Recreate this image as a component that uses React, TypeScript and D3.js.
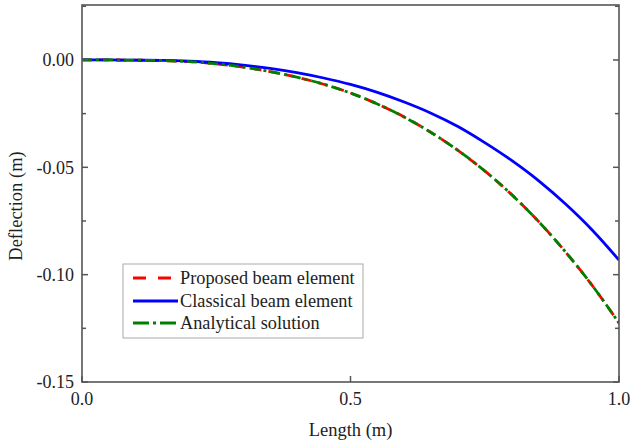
import React from "react";
import * as d3 from "d3";

const lengths = [0, 0.05, 0.1, 0.15, 0.2, 0.25, 0.3, 0.35, 0.4, 0.45, 0.5, 0.55, 0.6, 0.65, 0.7, 0.75, 0.8, 0.85, 0.9, 0.95, 1.0];
const proposed = [0, 0, -0.0001, -0.0003, -0.0008, -0.0018, -0.0033, -0.0054, -0.008, -0.0113, -0.0154, -0.0205, -0.0266, -0.0338, -0.0421, -0.0517, -0.0627, -0.0752, -0.0893, -0.105, -0.1225];
const classical = [0, 0, -0.0001, -0.0002, -0.0006, -0.0013, -0.0024, -0.0039, -0.0059, -0.0084, -0.0114, -0.0151, -0.0196, -0.0248, -0.031, -0.0385, -0.0468, -0.0562, -0.067, -0.0792, -0.0932];
const analytical = [0, 0, -0.0001, -0.0003, -0.0008, -0.0018, -0.0033, -0.0054, -0.008, -0.0113, -0.0154, -0.0205, -0.0266, -0.0338, -0.0421, -0.0517, -0.0627, -0.0752, -0.0893, -0.105, -0.1225];

const xTicks = [0, 0.5, 1.0];
const yTicks = [0, -0.05, -0.1, -0.15];
const yMinor = [0.025, -0.025, -0.075, -0.125];
const seriesNames = ["Proposed beam element", "Classical beam element", "Analytical solution"];

const W = 632, H = 446;
const L = 82, R = 619, T = 5, B = 382;
const font = "'Liberation Serif', 'Times New Roman', serif";

const fmt = (f: string) => (v: number) => d3.format(f)(v).replace("\u2212", "-");

export default function App() {
  const x = d3.scaleLinear().domain([0, 1]).range([L, R]);
  const y = d3.scaleLinear().domain([-0.15, 0.0256]).range([B, T]);
  const line = (vals: number[]) =>
    d3.line<number>().x((_, i) => x(lengths[i])).y((v) => y(v)).curve(d3.curveMonotoneX)(vals) || "";
  const frame = "#555";
  const series = [
    { name: seriesNames[0], vals: proposed, color: "#ff0000", dash: "10,7" },
    { name: seriesNames[1], vals: classical, color: "#0000ff", dash: "" },
    { name: seriesNames[2], vals: analytical, color: "#008000", dash: "10,4,3,4" },
  ];
  const legX = 123, legY = 264, legW = 240, legH = 74;
  const legRows = [278, 301, 323];
  const legDash = ["13,12", "", "16,4,3,4"];
  return (
    <svg width={W} height={H} style={{ position: "absolute", left: 0, top: 0, background: "#fff" }}>
      <rect x={0} y={0} width={W} height={H} fill="#fff" />
      <defs>
        <clipPath id="pc">
          <rect x={L} y={T} width={R - L} height={B - T} />
        </clipPath>
      </defs>
      <g clipPath="url(#pc)">
        {series.map((s) => (
          <path key={s.name} d={line(s.vals)} fill="none" stroke={s.color} strokeWidth={2.8} strokeDasharray={s.dash || undefined} />
        ))}
      </g>
      <rect x={L} y={T} width={R - L} height={B - T} fill="none" stroke={frame} strokeWidth={1.6} />
      {yTicks.map((t) => (
        <g key={"y" + t}>
          <line x1={L} x2={L + 6} y1={y(t)} y2={y(t)} stroke={frame} strokeWidth={1.5} />
          <line x1={R} x2={R - 6} y1={y(t)} y2={y(t)} stroke={frame} strokeWidth={1.5} />
          <text x={L - 8} y={y(t)} dy="0.35em" textAnchor="end" fontFamily={font} fontSize={18} fill="#222">
            {fmt(".2f")(t)}
          </text>
        </g>
      ))}
      {yMinor.map((t) => (
        <g key={"ym" + t}>
          <line x1={L} x2={L + 4} y1={y(t)} y2={y(t)} stroke={frame} strokeWidth={1.5} />
          <line x1={R} x2={R - 4} y1={y(t)} y2={y(t)} stroke={frame} strokeWidth={1.5} />
        </g>
      ))}
      {xTicks.map((t) => (
        <g key={"x" + t}>
          <line x1={x(t)} x2={x(t)} y1={B} y2={B - 6} stroke={frame} strokeWidth={1.5} />
          <text x={x(t)} y={399} dy="0.35em" textAnchor="middle" fontFamily={font} fontSize={18} fill="#222">
            {fmt(".1f")(t)}
          </text>
        </g>
      ))}
      <text x={(L + R) / 2} y={430} dy="0.35em" textAnchor="middle" fontFamily={font} fontSize={18.5} fill="#222">
        Length (m)
      </text>
      <text transform={`translate(16,206) rotate(-90)`} dy="0.35em" textAnchor="middle" fontFamily={font} fontSize={18.5} fill="#222">
        Deflection (m)
      </text>
      <rect x={legX} y={legY} width={legW} height={legH} fill="#fff" stroke="#aaa" strokeWidth={1} />
      {series.map((s, i) => (
        <g key={"l" + s.name}>
          <line x1={133} x2={178} y1={legRows[i]} y2={legRows[i]} stroke={s.color} strokeWidth={2.8} strokeDasharray={legDash[i] || undefined} />
          <text x={180} y={legRows[i]} dy="0.35em" fontFamily={font} fontSize={18.3} fill="#222">
            {s.name}
          </text>
        </g>
      ))}
    </svg>
  );
}
